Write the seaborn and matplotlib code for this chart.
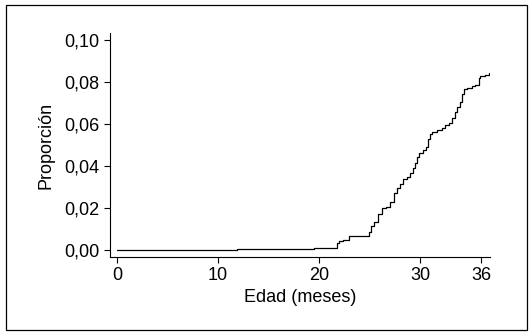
import matplotlib
matplotlib.use("Agg")
import matplotlib.pyplot as plt
import matplotlib.patches as mpatches
from matplotlib.ticker import FuncFormatter
import seaborn as sns
import pandas as pd

# edad (meses) y proporción acumulada
edad = [0, 11.9, 19.5, 21.75, 22.0, 22.4, 22.9, 24.9, 25.1, 25.4, 25.8, 26.2, 26.6,
        27.0, 27.4, 27.7, 28.0, 28.3, 28.7, 29.0, 29.3, 29.5, 29.7, 29.9, 30.3,
        30.6, 30.8, 31.0, 31.2, 31.7, 32.1, 32.4, 32.8, 33.1, 33.4, 33.6, 33.9,
        34.1, 34.3, 34.6, 35.1, 35.4, 35.8, 35.9, 36.4, 36.8]
proporcion = [0.0, 0.0003, 0.001, 0.0035, 0.0043, 0.0048, 0.0065, 0.0086, 0.0116,
              0.0133, 0.0171, 0.0200, 0.0206, 0.0230, 0.0273, 0.0294, 0.0314, 0.0337,
              0.0346, 0.0368, 0.0389, 0.0413, 0.0444, 0.0463, 0.0476, 0.0489, 0.0527,
              0.0552, 0.0560, 0.0571, 0.0580, 0.0595, 0.0606, 0.0627, 0.0659, 0.0682,
              0.0706, 0.0741, 0.0765, 0.0770, 0.0781, 0.0786, 0.0818, 0.0829, 0.0833,
              0.0841]
xticks = [0, 10, 20, 30, 36]
yticks = [0.00, 0.02, 0.04, 0.06, 0.08, 0.10]

df = pd.DataFrame({"edad": edad, "proporcion": proporcion})

sns.set_style("ticks")
plt.rcParams["font.family"] = ["Liberation Sans", "DejaVu Sans"]

fig = plt.figure(figsize=(5.32, 3.35), dpi=100)
ax = fig.add_axes([0.2068, 0.2328, 0.921 - 0.2068, 0.9015 - 0.2328])
sns.lineplot(data=df, x="edad", y="proporcion", drawstyle="steps-post",
             color="black", linewidth=0.9, ax=ax)

ax.set_xlim(-0.69, 36.89)
ax.set_ylim(-0.00333, 0.10333)
ax.set_xticks(xticks)
ax.set_yticks(yticks)
ax.yaxis.set_major_formatter(FuncFormatter(lambda v, p: f"{v:.2f}".replace(".", ",")))
ax.tick_params(labelsize=13, length=4, width=0.8, color="black", labelcolor="black")
ax.set_xlabel("Edad (meses)", fontsize=13, color="black", labelpad=3)
ax.set_ylabel("Proporción", fontsize=13, color="black", labelpad=7)
sns.despine(ax=ax)
for s in ("left", "bottom"):
    ax.spines[s].set_linewidth(0.8)
    ax.spines[s].set_color("black")

fig.patches.append(mpatches.Rectangle((6 / 532, 5 / 335), 521 / 532, 325 / 335,
                                      transform=fig.transFigure, fill=False,
                                      edgecolor="black", linewidth=0.9))

fig.savefig("out.png", dpi=100)
